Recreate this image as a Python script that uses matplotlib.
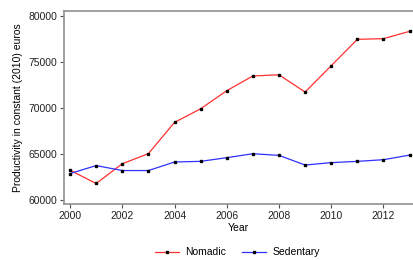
import matplotlib
matplotlib.use("Agg")
import matplotlib.pyplot as plt

years = list(range(2000, 2014))
nomadic = [63250, 61800, 63950, 65050, 68450, 69930, 71900, 73500, 73630,
           71750, 74620, 77490, 77560, 78360]
sedentary = [62880, 63750, 63210, 63210, 64140, 64210, 64610, 65040, 64860,
             63810, 64070, 64210, 64390, 64890]
xticks = [2000, 2002, 2004, 2006, 2008, 2010, 2012]
yticks = [60000, 65000, 70000, 75000, 80000]

plt.rcParams['font.family'] = ['Liberation Sans', 'DejaVu Sans']
plt.rcParams['font.size'] = 7.5

fig = plt.figure(figsize=(4.13, 2.6), dpi=100)
ax = fig.add_axes([0.155, 0.214, 0.845, 0.744])

ax.plot(years, nomadic, color='#ff3030', lw=0.9, marker='s', ms=1.6,
        mfc='black', mec='black', label='Nomadic')
ax.plot(years, sedentary, color='#3030ff', lw=0.9, marker='s', ms=1.6,
        mfc='black', mec='black', label='Sedentary')

ax.set_xlim(1999.77, 2013.13)
ax.set_ylim(59530, 80580)
ax.set_xticks(xticks)
ax.set_yticks(yticks)
ax.set_xlabel('Year', labelpad=1)
ax.set_ylabel('Productivity in constant (2010) euros', labelpad=4)

for s in ['left', 'bottom', 'top']:
    ax.spines[s].set_color('#909090')
    ax.spines[s].set_linewidth(1.2)
ax.spines['right'].set_visible(False)
ax.tick_params(colors='#505050', labelcolor='#222222', length=3, width=0.8, pad=2)

fig.legend(loc='center', bbox_to_anchor=(0.575, 0.03), ncol=2, frameon=False,
           handlelength=2.3, columnspacing=1.6, handletextpad=0.6)

fig.savefig('out.png', dpi=100)
